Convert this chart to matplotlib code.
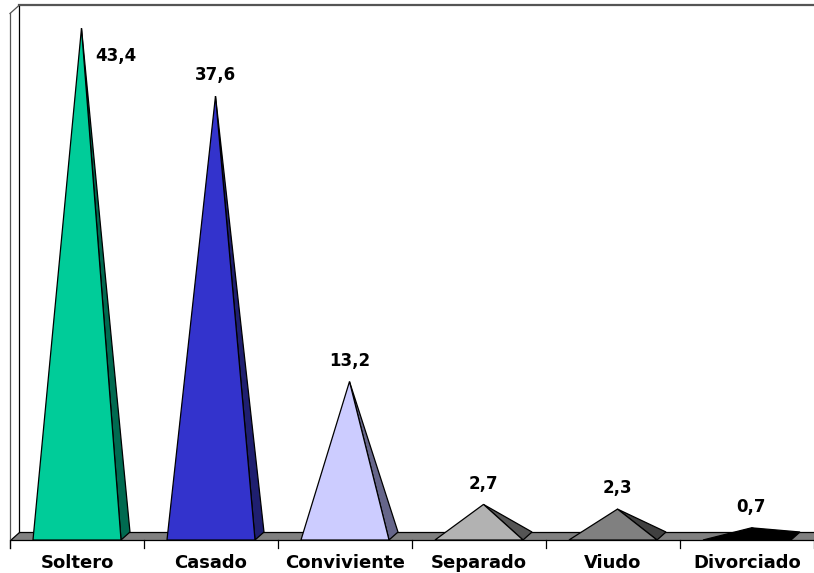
import matplotlib
matplotlib.use("Agg")
import matplotlib.pyplot as plt
from matplotlib.patches import Polygon

categories = ["Soltero", "Casado", "Conviviente", "Separado", "Viudo", "Divorciado"]
values = [43.4, 37.6, 13.2, 2.7, 2.3, 0.7]
value_labels = ["43,4", "37,6", "13,2", "2,7", "2,3", "0,7"]
front_colors = ["#00CC99", "#3333CC", "#CCCCFF", "#B2B2B2", "#808080", "#000000"]
side_colors = ["#006A50", "#1F1F70", "#66668A", "#555555", "#404040", "#000000"]

W, H = 814, 573
fig = plt.figure(figsize=(W / 100, H / 100), dpi=100)
ax = fig.add_axes([0, 0, 1, 1])
ax.set_axis_off()

# scale: category i centred at i; value units on y
ax.set_xlim(-0.5746, 5.5)
ax.set_ylim(-3.162, 45.81)

DX = 0.067   # depth offset (category units)
DY = 0.684   # depth offset (value units)
BW = 0.657   # pyramid base width
yf = -DY / 2
yb = DY / 2
ymax = 45.0
x0 = -0.5
xr = 5.6
lw = 0.9

# left wall (white) and lines
ax.add_patch(Polygon([(x0, yf), (x0 + DX, yb), (x0 + DX, ymax + DY / 2), (x0, ymax - DY / 2)],
                     closed=True, facecolor="white", edgecolor="none", zorder=1))
ax.plot([x0, x0], [yf - DY, ymax - DY / 2], color="#555555", lw=lw, zorder=3)
ax.plot([x0, x0 + DX], [ymax - DY / 2, ymax + DY / 2], color="#555555", lw=lw, zorder=3)
ax.plot([x0 + DX, x0 + DX], [yb, ymax + DY / 2], color="black", lw=lw, zorder=3)
ax.plot([x0 + DX, xr], [ymax + DY / 2, ymax + DY / 2], color="#555555", lw=1.6, zorder=3)

# floor
ax.add_patch(Polygon([(x0, yf), (xr, yf), (xr, yb), (x0 + DX, yb)],
                     closed=True, facecolor="#808080", edgecolor="black", lw=lw, zorder=2))

# tick marks
for i in range(len(categories) + 1):
    ax.plot([x0 + i, x0 + i], [yf, yf - DY], color="black", lw=lw, zorder=3)

# pyramids
for i, (v, fc, sc) in enumerate(zip(values, front_colors, side_colors)):
    l, r = i - BW / 2, i + BW / 2
    apex = (i + DX / 2, v)
    ax.add_patch(Polygon([(r, yf), (r + DX, yb), apex], closed=True,
                         facecolor=sc, edgecolor="black", lw=lw, zorder=4))
    ax.add_patch(Polygon([(l, yf), (r, yf), apex], closed=True,
                         facecolor=fc, edgecolor="black", lw=lw, zorder=5))

# data labels
for i, (v, lab) in enumerate(zip(values, value_labels)):
    if i == 0:
        off = (25, -20)
    else:
        off = (0, 15)
    ax.annotate(lab, (i + DX / 2, v), xytext=off, textcoords="offset points",
                ha="center", va="center", fontsize=12, fontweight="bold",
                family="DejaVu Sans", zorder=6)

# category labels
for i, c in enumerate(categories):
    ax.text(i, -2.31, c, ha="center", va="center", fontsize=13,
            fontweight="bold", family="DejaVu Sans")

fig.savefig("out.png", dpi=100, facecolor="white")
